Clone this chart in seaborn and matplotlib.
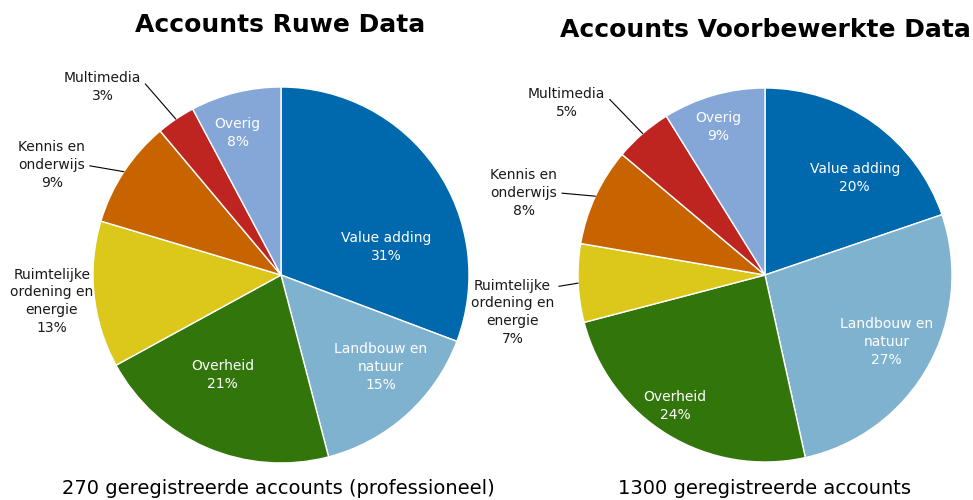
import matplotlib
matplotlib.use("Agg")
import matplotlib.pyplot as plt
import numpy as np
import seaborn as sns

# sector names in drawing order (clockwise from 12 o'clock)
SECTORS = ["Value adding", "Landbouw en\nnatuur", "Overheid",
           "Ruimtelijke\nordening en\nenergie", "Kennis en\nonderwijs",
           "Multimedia", "Overig"]

# number of accounts per sector
RAW_COUNTS = [83, 41, 57, 34, 25, 9, 21]             # 270 total
PROCESSED_COUNTS = [257, 348, 317, 88, 110, 65, 115]  # 1300 total

SECTOR_COLOURS = ["#0068ac", "#7fb2cf", "#32760b", "#dcc71b",
                  "#c86400", "#be2521", "#85a7d8"]

RAW_TITLE = "Accounts Ruwe Data"
PROCESSED_TITLE = "Accounts Voorbewerkte Data"
RAW_CAPTION = "270 geregistreerde accounts (professioneel)"
PROCESSED_CAPTION = "1300 geregistreerde accounts"

# label layout (axes data units, pie radius = 1) and leader-line anchor on the text
# (None = no leader line, "first" = right end of first line, "mid" = right middle)
RAW_LABEL_POS = [(0.56, 0.15), (0.53, -0.49), (-0.31, -0.53), (-1.22, -0.14),
                 (-1.22, 0.585), (-0.95, 1.0), (-0.23, 0.755)]
RAW_LEADER = [None, None, None, None, "mid", "first", None]
PROCESSED_LABEL_POS = [(0.48, 0.52), (0.65, -0.36), (-0.48, -0.70), (-1.35, -0.20),
                       (-1.29, 0.44), (-1.06, 0.92), (-0.25, 0.79)]
PROCESSED_LEADER = [None, None, None, "first", "mid", "first", None]
INSIDE = [True, True, True, False, False, False, True]

sns.set_theme(style="white")
plt.rcParams["font.family"] = ["DejaVu Sans"]


def draw_pie(ax, counts, label_pos, leader):
    counts = np.asarray(counts, dtype=float)
    pct = counts / counts.sum() * 100
    wedges, _ = ax.pie(counts, colors=sns.color_palette(SECTOR_COLOURS),
                       startangle=90, counterclock=False, radius=1.0,
                       wedgeprops=dict(edgecolor="white", linewidth=1.0))
    for w, name, p, pos, anchor, inside in zip(wedges, SECTORS, pct,
                                               label_pos, leader, INSIDE):
        text = f"{name}\n{p:.0f}%"
        colour = "white" if inside else "#1a1a1a"
        style = dict(ha="center", va="center", fontsize=10, color=colour,
                     linespacing=1.35)
        if anchor:
            mid = np.deg2rad((w.theta1 + w.theta2) / 2)
            tip = (np.cos(mid), np.sin(mid))
            n_lines = text.count("\n") + 1
            rel_y = 1 - 0.5 / n_lines if anchor == "first" else 0.5
            ax.annotate(text, xy=tip, xytext=pos, **style,
                        arrowprops=dict(arrowstyle="-", color="black", lw=0.8,
                                        shrinkA=1, shrinkB=0,
                                        relpos=(1.0, rel_y)))
        else:
            ax.text(pos[0], pos[1], text, **style)
    ax.set_xlim(-1, 1)
    ax.set_ylim(-1, 1)
    ax.set_aspect("equal")
    ax.axis("off")


fig = plt.figure(figsize=(9.73, 5.0), dpi=100)

ax_raw = fig.add_axes([93 / 973, 37 / 500, 376 / 973, 376 / 500])
draw_pie(ax_raw, RAW_COUNTS, RAW_LABEL_POS, RAW_LEADER)

ax_proc = fig.add_axes([578 / 973, 38 / 500, 374 / 973, 374 / 500])
draw_pie(ax_proc, PROCESSED_COUNTS, PROCESSED_LABEL_POS, PROCESSED_LEADER)

fig.text(280 / 973, 1 - 25 / 500, RAW_TITLE, ha="center", va="center",
         fontsize=18, fontweight="bold", color="black")
fig.text(765 / 973, 1 - 30 / 500, PROCESSED_TITLE, ha="center", va="center",
         fontsize=18, fontweight="bold", color="black")
fig.text(278 / 973, 1 - 488 / 500, RAW_CAPTION, ha="center", va="center",
         fontsize=14, color="black")
fig.text(765 / 973, 1 - 488 / 500, PROCESSED_CAPTION, ha="center", va="center",
         fontsize=14, color="black")

fig.savefig("out.png", dpi=100, facecolor="white")
